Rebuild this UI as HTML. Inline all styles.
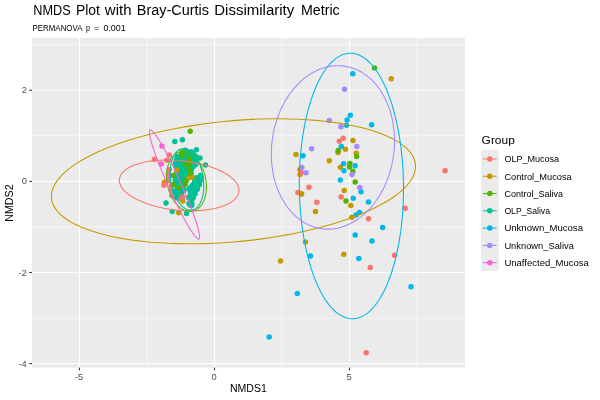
<!DOCTYPE html>
<html lang="en"><head><meta charset="utf-8"><title>NMDS Plot with Bray-Curtis Dissimilarity Metric</title><style>html,body{margin:0;padding:0;background:#fff;}body{width:600px;height:400px;overflow:hidden;font-family:"Liberation Sans",sans-serif;}svg{display:block;will-change:transform;}</style></head><body>
<svg width="600" height="400" viewBox="0 0 600 400" font-family="'Liberation Sans', sans-serif">
<rect width="600" height="400" fill="#fff"/>
<rect x="32.05" y="38.0" width="432.95" height="329.65" fill="#EBEBEB"/>
<clipPath id="c"><rect x="32.05" y="38.0" width="432.95" height="329.65"/></clipPath>
<g stroke="#fff" stroke-width="0.53" clip-path="url(#c)">
<line x1="147.00" x2="147.00" y1="38.0" y2="367.65"/>
<line x1="282.00" x2="282.00" y1="38.0" y2="367.65"/>
<line x1="417.00" x2="417.00" y1="38.0" y2="367.65"/>
<line y1="44.69" y2="44.69" x1="32.05" x2="465.0"/>
<line y1="135.81" y2="135.81" x1="32.05" x2="465.0"/>
<line y1="226.93" y2="226.93" x1="32.05" x2="465.0"/>
<line y1="318.05" y2="318.05" x1="32.05" x2="465.0"/>
</g>
<g stroke="#fff" stroke-width="1.07" clip-path="url(#c)">
<line x1="79.50" x2="79.50" y1="38.0" y2="367.65"/>
<line x1="214.50" x2="214.50" y1="38.0" y2="367.65"/>
<line x1="349.50" x2="349.50" y1="38.0" y2="367.65"/>
<line y1="90.25" y2="90.25" x1="32.05" x2="465.0"/>
<line y1="181.37" y2="181.37" x1="32.05" x2="465.0"/>
<line y1="272.49" y2="272.49" x1="32.05" x2="465.0"/>
<line y1="363.61" y2="363.61" x1="32.05" x2="465.0"/>
</g>
<g clip-path="url(#c)">
<g fill="#00C094">
<circle cx="183.9" cy="152.0" r="2.75"/>
<circle cx="186.6" cy="151.9" r="2.75"/>
<circle cx="188.8" cy="152.2" r="2.75"/>
<circle cx="190.7" cy="152.4" r="2.75"/>
<circle cx="181.3" cy="154.6" r="2.75"/>
<circle cx="183.7" cy="154.3" r="2.75"/>
<circle cx="186.4" cy="155.0" r="2.75"/>
<circle cx="188.4" cy="154.4" r="2.75"/>
<circle cx="191.3" cy="155.1" r="2.75"/>
<circle cx="193.6" cy="154.6" r="2.75"/>
<circle cx="182.2" cy="156.6" r="2.75"/>
<circle cx="184.5" cy="156.8" r="2.75"/>
<circle cx="186.1" cy="156.7" r="2.75"/>
<circle cx="188.6" cy="157.4" r="2.75"/>
<circle cx="190.8" cy="157.1" r="2.75"/>
<circle cx="193.6" cy="156.9" r="2.75"/>
<circle cx="195.9" cy="156.6" r="2.75"/>
<circle cx="176.6" cy="159.1" r="2.75"/>
<circle cx="179.6" cy="159.3" r="2.75"/>
<circle cx="181.6" cy="159.5" r="2.75"/>
<circle cx="184.1" cy="159.2" r="2.75"/>
<circle cx="186.7" cy="159.6" r="2.75"/>
<circle cx="188.5" cy="159.5" r="2.75"/>
<circle cx="191.2" cy="159.8" r="2.75"/>
<circle cx="193.7" cy="159.2" r="2.75"/>
<circle cx="196.3" cy="159.0" r="2.75"/>
<circle cx="177.0" cy="162.0" r="2.75"/>
<circle cx="179.1" cy="161.7" r="2.75"/>
<circle cx="181.3" cy="161.9" r="2.75"/>
<circle cx="184.4" cy="161.8" r="2.75"/>
<circle cx="186.8" cy="161.6" r="2.75"/>
<circle cx="189.0" cy="161.8" r="2.75"/>
<circle cx="191.2" cy="161.7" r="2.75"/>
<circle cx="193.8" cy="162.2" r="2.75"/>
<circle cx="195.8" cy="161.9" r="2.75"/>
<circle cx="176.6" cy="164.3" r="2.75"/>
<circle cx="179.5" cy="164.6" r="2.75"/>
<circle cx="182.1" cy="163.9" r="2.75"/>
<circle cx="184.0" cy="164.3" r="2.75"/>
<circle cx="186.0" cy="164.1" r="2.75"/>
<circle cx="188.5" cy="163.7" r="2.75"/>
<circle cx="190.7" cy="164.4" r="2.75"/>
<circle cx="193.1" cy="163.8" r="2.75"/>
<circle cx="195.7" cy="164.5" r="2.75"/>
<circle cx="176.6" cy="166.4" r="2.75"/>
<circle cx="179.4" cy="166.8" r="2.75"/>
<circle cx="182.1" cy="166.8" r="2.75"/>
<circle cx="183.9" cy="166.4" r="2.75"/>
<circle cx="186.3" cy="166.8" r="2.75"/>
<circle cx="189.3" cy="166.1" r="2.75"/>
<circle cx="190.8" cy="166.2" r="2.75"/>
<circle cx="193.2" cy="166.4" r="2.75"/>
<circle cx="177.1" cy="168.6" r="2.75"/>
<circle cx="178.9" cy="168.7" r="2.75"/>
<circle cx="181.6" cy="168.9" r="2.75"/>
<circle cx="184.6" cy="169.0" r="2.75"/>
<circle cx="186.5" cy="168.9" r="2.75"/>
<circle cx="189.0" cy="168.4" r="2.75"/>
<circle cx="191.5" cy="169.1" r="2.75"/>
<circle cx="177.4" cy="171.4" r="2.75"/>
<circle cx="179.3" cy="171.0" r="2.75"/>
<circle cx="181.4" cy="171.3" r="2.75"/>
<circle cx="183.7" cy="170.7" r="2.75"/>
<circle cx="186.2" cy="170.8" r="2.75"/>
<circle cx="188.6" cy="170.7" r="2.75"/>
<circle cx="190.7" cy="170.8" r="2.75"/>
<circle cx="176.7" cy="173.4" r="2.75"/>
<circle cx="178.9" cy="173.9" r="2.75"/>
<circle cx="181.9" cy="173.1" r="2.75"/>
<circle cx="183.9" cy="173.3" r="2.75"/>
<circle cx="186.3" cy="173.1" r="2.75"/>
<circle cx="189.1" cy="174.0" r="2.75"/>
<circle cx="191.1" cy="173.5" r="2.75"/>
<circle cx="176.6" cy="175.5" r="2.75"/>
<circle cx="179.2" cy="175.6" r="2.75"/>
<circle cx="182.1" cy="175.5" r="2.75"/>
<circle cx="183.6" cy="176.3" r="2.75"/>
<circle cx="186.5" cy="175.5" r="2.75"/>
<circle cx="188.8" cy="175.4" r="2.75"/>
<circle cx="177.1" cy="178.7" r="2.75"/>
<circle cx="179.8" cy="178.4" r="2.75"/>
<circle cx="181.5" cy="178.1" r="2.75"/>
<circle cx="183.8" cy="178.5" r="2.75"/>
<circle cx="186.5" cy="178.5" r="2.75"/>
<circle cx="176.9" cy="180.3" r="2.75"/>
<circle cx="179.7" cy="181.0" r="2.75"/>
<circle cx="182.1" cy="180.9" r="2.75"/>
<circle cx="184.4" cy="180.8" r="2.75"/>
<circle cx="186.2" cy="180.6" r="2.75"/>
<circle cx="176.9" cy="182.4" r="2.75"/>
<circle cx="178.9" cy="182.7" r="2.75"/>
<circle cx="181.5" cy="183.1" r="2.75"/>
<circle cx="184.6" cy="182.8" r="2.75"/>
<circle cx="177.5" cy="185.7" r="2.75"/>
<circle cx="179.9" cy="185.1" r="2.75"/>
<circle cx="181.5" cy="185.0" r="2.75"/>
<circle cx="183.8" cy="185.0" r="2.75"/>
<circle cx="177.2" cy="188.0" r="2.75"/>
<circle cx="179.7" cy="187.6" r="2.75"/>
<circle cx="181.9" cy="187.9" r="2.75"/>
<circle cx="183.7" cy="187.8" r="2.75"/>
<circle cx="177.5" cy="190.2" r="2.75"/>
<circle cx="179.7" cy="189.9" r="2.75"/>
<circle cx="181.4" cy="190.2" r="2.75"/>
<circle cx="183.9" cy="190.3" r="2.75"/>
<circle cx="177.5" cy="192.2" r="2.75"/>
<circle cx="179.3" cy="192.7" r="2.75"/>
<circle cx="182.0" cy="192.0" r="2.75"/>
<circle cx="176.7" cy="194.3" r="2.75"/>
<circle cx="179.8" cy="195.0" r="2.75"/>
<circle cx="181.4" cy="195.0" r="2.75"/>
<circle cx="177.5" cy="197.2" r="2.75"/>
<circle cx="179.3" cy="197.0" r="2.75"/>
<circle cx="196.7" cy="178.0" r="2.75"/>
<circle cx="199.6" cy="178.5" r="2.75"/>
<circle cx="194.8" cy="180.9" r="2.75"/>
<circle cx="196.9" cy="180.9" r="2.75"/>
<circle cx="199.5" cy="180.4" r="2.75"/>
<circle cx="194.6" cy="182.6" r="2.75"/>
<circle cx="196.8" cy="182.9" r="2.75"/>
<circle cx="199.0" cy="182.7" r="2.75"/>
<circle cx="192.3" cy="185.3" r="2.75"/>
<circle cx="194.7" cy="185.0" r="2.75"/>
<circle cx="197.1" cy="185.3" r="2.75"/>
<circle cx="190.3" cy="187.5" r="2.75"/>
<circle cx="192.6" cy="187.2" r="2.75"/>
<circle cx="194.8" cy="186.8" r="2.75"/>
<circle cx="197.0" cy="186.9" r="2.75"/>
<circle cx="190.0" cy="189.6" r="2.75"/>
<circle cx="192.3" cy="189.4" r="2.75"/>
<circle cx="195.0" cy="189.4" r="2.75"/>
<circle cx="196.9" cy="189.4" r="2.75"/>
<circle cx="190.4" cy="191.8" r="2.75"/>
<circle cx="192.3" cy="191.6" r="2.75"/>
<circle cx="194.6" cy="191.4" r="2.75"/>
<circle cx="190.6" cy="193.8" r="2.75"/>
<circle cx="192.6" cy="194.0" r="2.75"/>
<circle cx="195.1" cy="193.8" r="2.75"/>
<circle cx="190.5" cy="196.0" r="2.75"/>
<circle cx="192.6" cy="196.2" r="2.75"/>
<circle cx="190.4" cy="198.2" r="2.75"/>
<circle cx="192.6" cy="198.6" r="2.75"/>
<circle cx="190.6" cy="200.7" r="2.75"/>
<circle cx="190.8" cy="202.4" r="2.75"/>
<circle cx="196.0" cy="178.0" r="2.75"/>
<circle cx="200.5" cy="175.5" r="2.75"/>
<circle cx="200.2" cy="181.0" r="2.75"/>
<circle cx="197.3" cy="189.0" r="2.75"/>
<circle cx="193.3" cy="197.5" r="2.75"/>
<circle cx="191.8" cy="203.5" r="2.75"/>
<circle cx="189.0" cy="203.5" r="2.75"/>
<circle cx="188.3" cy="197.5" r="2.75"/>
<circle cx="189.2" cy="189.0" r="2.75"/>
<circle cx="190.4" cy="205.2" r="2.75"/>
<circle cx="191.6" cy="205.4" r="2.75"/>
<circle cx="200.9" cy="177.5" r="2.75"/>
<circle cx="199.5" cy="184.5" r="2.75"/>
</g>
<g fill="#FB61D7">
<circle cx="180.2" cy="198.6" r="2.75"/>
</g>
<g fill="#C49A00">
<circle cx="164.3" cy="182.2" r="2.75"/>
<circle cx="176.7" cy="170.1" r="2.75"/>
<circle cx="188.9" cy="177.8" r="2.75"/>
<circle cx="191.9" cy="177.3" r="2.75"/>
<circle cx="182.8" cy="201.1" r="2.75"/>
</g>
<g fill="#F8766D">
<circle cx="169.3" cy="155.0" r="2.75"/>
<circle cx="154.5" cy="159.3" r="2.75"/>
<circle cx="166.9" cy="160.3" r="2.75"/>
<circle cx="169.3" cy="169.6" r="2.75"/>
<circle cx="168.4" cy="173.8" r="2.75"/>
<circle cx="168.6" cy="180.5" r="2.75"/>
<circle cx="164.0" cy="185.3" r="2.75"/>
<circle cx="171.6" cy="185.6" r="2.75"/>
<circle cx="171.8" cy="190.0" r="2.75"/>
<circle cx="171.8" cy="195.4" r="2.75"/>
<circle cx="182.5" cy="197.0" r="2.75"/>
</g>
<g fill="#FB61D7">
<circle cx="161.9" cy="145.9" r="2.75"/>
<circle cx="161.3" cy="164.0" r="2.75"/>
<circle cx="168.7" cy="176.0" r="2.75"/>
</g>
<g fill="#53B400">
<circle cx="190.2" cy="131.2" r="2.75"/>
<circle cx="182.1" cy="151.9" r="2.75"/>
<circle cx="182.3" cy="155.8" r="2.75"/>
<circle cx="189.3" cy="158.7" r="2.75"/>
<circle cx="186.0" cy="164.8" r="2.75"/>
<circle cx="190.1" cy="164.0" r="2.75"/>
<circle cx="189.7" cy="170.1" r="2.75"/>
<circle cx="189.8" cy="172.9" r="2.75"/>
<circle cx="185.8" cy="181.3" r="2.75"/>
<circle cx="185.3" cy="184.0" r="2.75"/>
<circle cx="173.1" cy="175.5" r="2.75"/>
<circle cx="173.5" cy="184.6" r="2.75"/>
<circle cx="178.8" cy="188.0" r="2.75"/>
</g>
<g fill="#00C094">
<circle cx="174.8" cy="141.5" r="2.75"/>
<circle cx="182.4" cy="139.8" r="2.75"/>
<circle cx="196.4" cy="149.8" r="2.75"/>
<circle cx="191.6" cy="152.0" r="2.75"/>
<circle cx="185.5" cy="150.2" r="2.75"/>
<circle cx="200.0" cy="157.9" r="2.75"/>
<circle cx="205.5" cy="165.0" r="2.75"/>
<circle cx="177.4" cy="156.6" r="2.75"/>
<circle cx="194.0" cy="160.0" r="2.75"/>
<circle cx="193.2" cy="166.0" r="2.75"/>
<circle cx="175.3" cy="163.4" r="2.75"/>
<circle cx="166.0" cy="202.9" r="2.75"/>
<circle cx="172.2" cy="211.4" r="2.75"/>
<circle cx="186.6" cy="213.6" r="2.75"/>
<circle cx="174.8" cy="191.7" r="2.75"/>
<circle cx="180.1" cy="191.9" r="2.75"/>
<circle cx="177.6" cy="193.5" r="2.75"/>
<circle cx="176.2" cy="197.5" r="2.75"/>
<circle cx="175.3" cy="179.7" r="2.75"/>
</g>
<g fill="#C49A00">
<circle cx="178.6" cy="212.8" r="2.75"/>
<circle cx="391.2" cy="78.8" r="2.75"/>
<circle cx="353.0" cy="140.5" r="2.75"/>
<circle cx="345.5" cy="149.3" r="2.75"/>
<circle cx="338.0" cy="152.5" r="2.75"/>
<circle cx="356.4" cy="153.2" r="2.75"/>
<circle cx="296.0" cy="154.5" r="2.75"/>
<circle cx="329.3" cy="160.8" r="2.75"/>
<circle cx="340.4" cy="167.2" r="2.75"/>
<circle cx="300.0" cy="169.5" r="2.75"/>
<circle cx="300.0" cy="174.5" r="2.75"/>
<circle cx="344.2" cy="190.5" r="2.75"/>
<circle cx="301.2" cy="193.8" r="2.75"/>
<circle cx="350.8" cy="205.5" r="2.75"/>
<circle cx="315.5" cy="211.5" r="2.75"/>
<circle cx="351.8" cy="217.2" r="2.75"/>
<circle cx="305.4" cy="242.0" r="2.75"/>
<circle cx="343.8" cy="254.3" r="2.75"/>
<circle cx="280.5" cy="260.9" r="2.75"/>
</g>
<g fill="#00B6EB">
<circle cx="352.8" cy="73.8" r="2.75"/>
<circle cx="350.3" cy="115.2" r="2.75"/>
<circle cx="347.1" cy="120.1" r="2.75"/>
<circle cx="346.5" cy="125.3" r="2.75"/>
<circle cx="371.6" cy="124.7" r="2.75"/>
<circle cx="341.3" cy="146.5" r="2.75"/>
<circle cx="303.0" cy="155.8" r="2.75"/>
<circle cx="343.6" cy="163.8" r="2.75"/>
<circle cx="355.1" cy="165.7" r="2.75"/>
<circle cx="344.0" cy="170.8" r="2.75"/>
<circle cx="340.3" cy="179.9" r="2.75"/>
<circle cx="361.0" cy="191.8" r="2.75"/>
<circle cx="353.2" cy="198.2" r="2.75"/>
<circle cx="368.5" cy="202.0" r="2.75"/>
<circle cx="359.5" cy="212.5" r="2.75"/>
<circle cx="356.2" cy="215.0" r="2.75"/>
<circle cx="382.6" cy="227.6" r="2.75"/>
<circle cx="355.2" cy="235.1" r="2.75"/>
<circle cx="372.0" cy="241.1" r="2.75"/>
<circle cx="310.5" cy="256.1" r="2.75"/>
<circle cx="358.8" cy="258.5" r="2.75"/>
<circle cx="411.0" cy="286.7" r="2.75"/>
<circle cx="297.3" cy="293.6" r="2.75"/>
<circle cx="269.2" cy="337.0" r="2.75"/>
</g>
<g fill="#53B400">
<circle cx="374.5" cy="68.0" r="2.75"/>
<circle cx="338.2" cy="150.5" r="2.75"/>
<circle cx="356.6" cy="156.6" r="2.75"/>
<circle cx="349.9" cy="163.4" r="2.75"/>
<circle cx="349.4" cy="166.9" r="2.75"/>
<circle cx="352.8" cy="171.2" r="2.75"/>
<circle cx="355.2" cy="182.0" r="2.75"/>
<circle cx="346.0" cy="201.0" r="2.75"/>
</g>
<g fill="#A58AFF">
<circle cx="344.5" cy="89.2" r="2.75"/>
<circle cx="329.3" cy="120.4" r="2.75"/>
<circle cx="340.9" cy="126.8" r="2.75"/>
<circle cx="356.8" cy="146.4" r="2.75"/>
<circle cx="311.5" cy="148.8" r="2.75"/>
<circle cx="301.8" cy="167.5" r="2.75"/>
<circle cx="306.0" cy="172.8" r="2.75"/>
<circle cx="352.0" cy="174.5" r="2.75"/>
<circle cx="359.8" cy="187.5" r="2.75"/>
</g>
<g fill="#F8766D">
<circle cx="343.2" cy="138.3" r="2.75"/>
<circle cx="339.3" cy="141.2" r="2.75"/>
<circle cx="301.2" cy="172.5" r="2.75"/>
<circle cx="309.0" cy="187.2" r="2.75"/>
<circle cx="298.0" cy="192.5" r="2.75"/>
<circle cx="341.2" cy="197.0" r="2.75"/>
<circle cx="316.8" cy="202.2" r="2.75"/>
<circle cx="368.5" cy="218.7" r="2.75"/>
<circle cx="405.2" cy="208.2" r="2.75"/>
<circle cx="394.5" cy="255.2" r="2.75"/>
<circle cx="370.2" cy="267.5" r="2.75"/>
<circle cx="366.2" cy="352.8" r="2.75"/>
<circle cx="445.1" cy="170.7" r="2.75"/>
</g>
<g fill="#C49A00">
<circle cx="301.6" cy="193.9" r="2.75"/>
</g>
</g>
<g fill="none" stroke-width="1.07" stroke-linejoin="round" clip-path="url(#c)">
<path d="M239.0,190.4 L239.0,191.7 L238.7,193.0 L238.3,194.2 L237.7,195.5 L237.0,196.7 L236.1,197.9 L235.1,199.0 L233.9,200.1 L232.5,201.2 L231.0,202.2 L229.4,203.2 L227.6,204.1 L225.7,205.0 L223.7,205.8 L221.5,206.6 L219.2,207.3 L216.9,207.9 L214.4,208.5 L211.8,209.0 L209.1,209.5 L206.4,209.9 L203.5,210.2 L200.6,210.4 L197.7,210.6 L194.7,210.7 L191.6,210.8 L188.6,210.8 L185.5,210.7 L182.3,210.5 L179.2,210.3 L176.1,210.0 L172.9,209.6 L169.8,209.2 L166.8,208.7 L163.7,208.2 L160.7,207.5 L157.8,206.9 L154.9,206.1 L152.0,205.3 L149.3,204.5 L146.6,203.6 L144.0,202.6 L141.5,201.6 L139.2,200.6 L136.9,199.5 L134.7,198.3 L132.7,197.2 L130.8,196.0 L129.0,194.8 L127.4,193.5 L125.9,192.2 L124.5,190.9 L123.3,189.6 L122.3,188.3 L121.4,187.0 L120.7,185.7 L120.1,184.3 L119.7,183.0 L119.4,181.7 L119.3,180.4 L119.4,179.1 L119.7,177.8 L120.1,176.6 L120.7,175.3 L121.4,174.1 L122.3,172.9 L123.3,171.8 L124.5,170.7 L125.9,169.6 L127.4,168.6 L129.0,167.6 L130.8,166.7 L132.7,165.8 L134.7,165.0 L136.9,164.2 L139.2,163.5 L141.5,162.9 L144.0,162.3 L146.6,161.8 L149.3,161.3 L152.0,160.9 L154.9,160.6 L157.8,160.4 L160.7,160.2 L163.7,160.1 L166.8,160.0 L169.8,160.0 L172.9,160.1 L176.1,160.3 L179.2,160.5 L182.3,160.8 L185.5,161.2 L188.6,161.6 L191.6,162.1 L194.7,162.6 L197.7,163.3 L200.6,163.9 L203.5,164.7 L206.4,165.5 L209.1,166.3 L211.8,167.2 L214.4,168.2 L216.9,169.2 L219.2,170.2 L221.5,171.3 L223.7,172.5 L225.7,173.6 L227.6,174.8 L229.4,176.0 L231.0,177.3 L232.5,178.6 L233.9,179.9 L235.1,181.2 L236.1,182.5 L237.0,183.8 L237.7,185.1 L238.3,186.5 L238.7,187.8 L239.0,189.1Z" stroke="#F8766D"/>
<path d="M415.5,166.3 L415.3,169.5 L414.5,172.7 L413.3,176.0 L411.5,179.2 L409.3,182.5 L406.6,185.8 L403.4,189.0 L399.8,192.3 L395.7,195.5 L391.1,198.7 L386.1,201.8 L380.7,204.8 L374.9,207.8 L368.7,210.8 L362.2,213.6 L355.3,216.4 L348.0,219.0 L340.5,221.6 L332.6,224.0 L324.5,226.3 L316.1,228.6 L307.5,230.6 L298.7,232.6 L289.7,234.4 L280.6,236.0 L271.3,237.5 L261.9,238.9 L252.5,240.1 L243.0,241.1 L233.5,242.0 L223.9,242.7 L214.4,243.2 L205.0,243.6 L195.6,243.8 L186.3,243.8 L177.2,243.6 L168.2,243.3 L159.4,242.8 L150.8,242.2 L142.4,241.3 L134.3,240.4 L126.4,239.2 L118.9,237.9 L111.6,236.4 L104.7,234.8 L98.2,233.0 L92.0,231.1 L86.2,229.1 L80.8,226.9 L75.8,224.6 L71.2,222.2 L67.1,219.7 L63.5,217.0 L60.3,214.3 L57.6,211.5 L55.4,208.6 L53.6,205.6 L52.4,202.6 L51.6,199.5 L51.4,196.3 L51.6,193.1 L52.4,189.9 L53.6,186.6 L55.4,183.4 L57.6,180.1 L60.3,176.8 L63.5,173.6 L67.1,170.3 L71.2,167.1 L75.8,163.9 L80.8,160.8 L86.2,157.8 L92.0,154.8 L98.2,151.8 L104.7,149.0 L111.6,146.2 L118.9,143.6 L126.4,141.0 L134.3,138.6 L142.4,136.3 L150.8,134.0 L159.4,132.0 L168.2,130.0 L177.2,128.2 L186.3,126.6 L195.6,125.1 L205.0,123.7 L214.4,122.5 L223.9,121.5 L233.4,120.6 L243.0,119.9 L252.5,119.4 L261.9,119.0 L271.3,118.8 L280.6,118.8 L289.7,119.0 L298.7,119.3 L307.5,119.8 L316.1,120.4 L324.5,121.3 L332.6,122.2 L340.5,123.4 L348.0,124.7 L355.3,126.2 L362.2,127.8 L368.7,129.6 L374.9,131.5 L380.7,133.5 L386.1,135.7 L391.1,138.0 L395.7,140.4 L399.8,142.9 L403.4,145.6 L406.6,148.3 L409.3,151.1 L411.5,154.0 L413.3,157.0 L414.5,160.0 L415.3,163.1Z" stroke="#C49A00"/>
<path d="M206.4,186.8 L206.4,188.4 L206.3,189.9 L206.2,191.4 L206.0,192.8 L205.7,194.3 L205.4,195.7 L205.1,197.0 L204.7,198.4 L204.2,199.6 L203.7,200.9 L203.2,202.0 L202.6,203.1 L202.0,204.2 L201.3,205.2 L200.6,206.1 L199.8,207.0 L199.0,207.7 L198.2,208.5 L197.3,209.1 L196.4,209.7 L195.5,210.2 L194.6,210.6 L193.6,210.9 L192.6,211.1 L191.7,211.3 L190.6,211.4 L189.6,211.4 L188.6,211.3 L187.5,211.1 L186.5,210.9 L185.5,210.6 L184.4,210.2 L183.4,209.7 L182.4,209.1 L181.3,208.5 L180.4,207.8 L179.4,207.0 L178.4,206.1 L177.5,205.2 L176.6,204.2 L175.7,203.2 L174.8,202.1 L174.0,200.9 L173.2,199.7 L172.4,198.4 L171.7,197.1 L171.0,195.8 L170.4,194.4 L169.8,192.9 L169.3,191.5 L168.8,190.0 L168.3,188.4 L167.9,186.9 L167.6,185.4 L167.3,183.8 L167.0,182.2 L166.8,180.7 L166.7,179.1 L166.6,177.5 L166.6,176.0 L166.6,174.4 L166.7,172.9 L166.8,171.4 L167.0,170.0 L167.3,168.5 L167.6,167.1 L167.9,165.8 L168.3,164.4 L168.8,163.2 L169.3,161.9 L169.8,160.8 L170.4,159.7 L171.0,158.6 L171.7,157.6 L172.4,156.7 L173.2,155.8 L174.0,155.1 L174.8,154.3 L175.7,153.7 L176.5,153.1 L177.5,152.6 L178.4,152.2 L179.4,151.9 L180.4,151.7 L181.3,151.5 L182.4,151.4 L183.4,151.4 L184.4,151.5 L185.5,151.7 L186.5,151.9 L187.5,152.2 L188.6,152.6 L189.6,153.1 L190.6,153.7 L191.7,154.3 L192.6,155.0 L193.6,155.8 L194.6,156.7 L195.5,157.6 L196.4,158.6 L197.3,159.6 L198.2,160.7 L199.0,161.9 L199.8,163.1 L200.6,164.4 L201.3,165.7 L202.0,167.0 L202.6,168.4 L203.2,169.9 L203.7,171.3 L204.2,172.8 L204.7,174.4 L205.1,175.9 L205.4,177.4 L205.7,179.0 L206.0,180.6 L206.2,182.1 L206.3,183.7 L206.4,185.3Z" stroke="#53B400"/>
<path d="M203.8,185.7 L203.8,187.3 L203.7,188.8 L203.6,190.4 L203.4,191.9 L203.2,193.3 L203.0,194.7 L202.7,196.1 L202.3,197.4 L202.0,198.7 L201.5,199.9 L201.1,201.1 L200.6,202.2 L200.1,203.3 L199.5,204.2 L198.9,205.1 L198.2,206.0 L197.6,206.8 L196.9,207.4 L196.1,208.1 L195.4,208.6 L194.6,209.1 L193.8,209.4 L193.0,209.7 L192.2,209.9 L191.3,210.1 L190.5,210.1 L189.6,210.1 L188.8,209.9 L187.9,209.7 L187.0,209.4 L186.1,209.0 L185.2,208.6 L184.4,208.0 L183.5,207.4 L182.7,206.7 L181.8,206.0 L181.0,205.1 L180.2,204.2 L179.4,203.2 L178.6,202.2 L177.9,201.1 L177.1,199.9 L176.4,198.7 L175.8,197.4 L175.1,196.1 L174.5,194.7 L173.9,193.3 L173.4,191.8 L172.9,190.3 L172.5,188.8 L172.0,187.2 L171.7,185.7 L171.3,184.1 L171.0,182.5 L170.8,180.9 L170.6,179.3 L170.4,177.7 L170.3,176.1 L170.2,174.5 L170.2,172.9 L170.2,171.3 L170.3,169.8 L170.4,168.2 L170.6,166.7 L170.8,165.3 L171.0,163.9 L171.3,162.5 L171.7,161.2 L172.0,159.9 L172.5,158.7 L172.9,157.5 L173.4,156.4 L173.9,155.3 L174.5,154.4 L175.1,153.5 L175.8,152.6 L176.4,151.8 L177.1,151.2 L177.9,150.5 L178.6,150.0 L179.4,149.5 L180.2,149.2 L181.0,148.9 L181.8,148.7 L182.7,148.5 L183.5,148.5 L184.4,148.5 L185.2,148.7 L186.1,148.9 L187.0,149.2 L187.9,149.6 L188.8,150.0 L189.6,150.6 L190.5,151.2 L191.3,151.9 L192.2,152.6 L193.0,153.5 L193.8,154.4 L194.6,155.4 L195.4,156.4 L196.1,157.5 L196.9,158.7 L197.6,159.9 L198.2,161.2 L198.9,162.5 L199.5,163.9 L200.1,165.3 L200.6,166.8 L201.1,168.3 L201.5,169.8 L202.0,171.4 L202.3,172.9 L202.7,174.5 L203.0,176.1 L203.2,177.7 L203.4,179.3 L203.6,180.9 L203.7,182.5 L203.8,184.1Z" stroke="#00C094"/>
<path d="M403.5,188.6 L403.4,195.5 L403.2,202.4 L402.9,209.3 L402.4,216.1 L401.7,222.8 L401.0,229.5 L400.0,236.0 L399.0,242.3 L397.8,248.6 L396.5,254.6 L395.1,260.5 L393.5,266.1 L391.9,271.5 L390.1,276.7 L388.2,281.7 L386.3,286.4 L384.2,290.8 L382.0,294.9 L379.8,298.7 L377.4,302.3 L375.1,305.5 L372.6,308.3 L370.1,310.9 L367.5,313.1 L364.9,314.9 L362.2,316.4 L359.6,317.5 L356.8,318.3 L354.1,318.7 L351.4,318.8 L348.7,318.5 L346.0,317.8 L343.2,316.7 L340.6,315.3 L337.9,313.6 L335.3,311.5 L332.7,309.0 L330.2,306.3 L327.7,303.1 L325.3,299.7 L323.0,296.0 L320.8,291.9 L318.6,287.6 L316.5,283.0 L314.6,278.1 L312.7,272.9 L310.9,267.6 L309.3,262.0 L307.7,256.2 L306.3,250.2 L305.0,244.0 L303.8,237.7 L302.8,231.2 L301.8,224.6 L301.1,217.9 L300.4,211.1 L299.9,204.2 L299.6,197.3 L299.4,190.4 L299.3,183.4 L299.4,176.5 L299.6,169.6 L299.9,162.7 L300.4,155.9 L301.1,149.2 L301.8,142.5 L302.8,136.0 L303.8,129.7 L305.0,123.4 L306.3,117.4 L307.7,111.5 L309.3,105.9 L310.9,100.5 L312.7,95.3 L314.6,90.3 L316.5,85.6 L318.6,81.2 L320.8,77.1 L323.0,73.3 L325.3,69.7 L327.7,66.5 L330.2,63.7 L332.7,61.1 L335.3,58.9 L337.9,57.1 L340.6,55.6 L343.2,54.5 L346.0,53.7 L348.7,53.3 L351.4,53.2 L354.1,53.5 L356.8,54.2 L359.6,55.3 L362.2,56.7 L364.9,58.4 L367.5,60.5 L370.1,63.0 L372.6,65.7 L375.1,68.9 L377.4,72.3 L379.8,76.0 L382.0,80.1 L384.2,84.4 L386.3,89.0 L388.2,93.9 L390.1,99.1 L391.9,104.4 L393.5,110.0 L395.1,115.8 L396.5,121.8 L397.8,128.0 L399.0,134.3 L400.0,140.8 L401.0,147.4 L401.7,154.1 L402.4,160.9 L402.9,167.8 L403.2,174.7 L403.4,181.6Z" stroke="#00B6EB"/>
<path d="M394.5,140.7 L394.4,145.0 L394.2,149.3 L393.7,153.6 L393.2,157.8 L392.4,162.0 L391.5,166.2 L390.4,170.4 L389.2,174.4 L387.8,178.4 L386.2,182.4 L384.6,186.2 L382.7,189.9 L380.8,193.5 L378.7,196.9 L376.5,200.3 L374.1,203.5 L371.7,206.5 L369.1,209.4 L366.4,212.1 L363.7,214.6 L360.9,216.9 L358.0,219.1 L355.0,221.0 L351.9,222.8 L348.8,224.3 L345.7,225.7 L342.5,226.8 L339.3,227.7 L336.1,228.4 L332.9,228.8 L329.7,229.1 L326.5,229.1 L323.3,228.9 L320.1,228.4 L317.0,227.8 L313.9,226.9 L310.8,225.8 L307.8,224.5 L304.9,223.0 L302.1,221.2 L299.4,219.3 L296.7,217.2 L294.1,214.9 L291.7,212.4 L289.3,209.7 L287.1,206.8 L285.0,203.8 L283.1,200.6 L281.2,197.3 L279.6,193.9 L278.0,190.3 L276.6,186.6 L275.4,182.8 L274.3,178.9 L273.4,174.9 L272.6,170.8 L272.1,166.7 L271.6,162.5 L271.4,158.3 L271.3,154.1 L271.4,149.8 L271.6,145.5 L272.1,141.2 L272.6,137.0 L273.4,132.8 L274.3,128.6 L275.4,124.4 L276.6,120.4 L278.0,116.4 L279.6,112.4 L281.2,108.6 L283.1,104.9 L285.0,101.3 L287.1,97.9 L289.3,94.5 L291.7,91.3 L294.1,88.3 L296.7,85.4 L299.4,82.7 L302.1,80.2 L304.9,77.9 L307.8,75.7 L310.8,73.8 L313.9,72.0 L317.0,70.5 L320.1,69.1 L323.3,68.0 L326.5,67.1 L329.7,66.4 L332.9,66.0 L336.1,65.7 L339.3,65.7 L342.5,65.9 L345.7,66.4 L348.8,67.0 L351.9,67.9 L355.0,69.0 L358.0,70.3 L360.9,71.8 L363.7,73.6 L366.4,75.5 L369.1,77.6 L371.7,79.9 L374.1,82.4 L376.5,85.1 L378.7,88.0 L380.8,91.0 L382.7,94.2 L384.6,97.5 L386.2,100.9 L387.8,104.5 L389.2,108.2 L390.4,112.0 L391.5,115.9 L392.4,119.9 L393.2,124.0 L393.7,128.1 L394.2,132.3 L394.4,136.5Z" stroke="#A58AFF"/>
<path d="M198.9,239.1 L198.6,239.1 L198.2,239.1 L197.7,238.8 L197.2,238.4 L196.6,237.9 L195.9,237.2 L195.2,236.4 L194.4,235.4 L193.6,234.3 L192.7,233.1 L191.8,231.7 L190.8,230.2 L189.8,228.6 L188.7,226.8 L187.6,224.9 L186.5,223.0 L185.3,220.9 L184.1,218.7 L182.9,216.4 L181.6,214.1 L180.4,211.6 L179.1,209.1 L177.8,206.5 L176.5,203.9 L175.2,201.2 L173.9,198.4 L172.5,195.6 L171.2,192.8 L169.9,190.0 L168.7,187.1 L167.4,184.3 L166.1,181.4 L164.9,178.5 L163.7,175.7 L162.5,172.9 L161.4,170.1 L160.3,167.4 L159.2,164.7 L158.2,162.0 L157.2,159.5 L156.3,157.0 L155.4,154.5 L154.6,152.2 L153.8,149.9 L153.1,147.7 L152.4,145.7 L151.8,143.7 L151.3,141.9 L150.8,140.1 L150.4,138.5 L150.1,137.0 L149.8,135.7 L149.6,134.5 L149.5,133.4 L149.4,132.4 L149.4,131.6 L149.5,131.0 L149.6,130.5 L149.8,130.1 L150.1,129.9 L150.4,129.9 L150.8,129.9 L151.3,130.2 L151.8,130.6 L152.4,131.1 L153.1,131.8 L153.8,132.6 L154.6,133.6 L155.4,134.7 L156.3,135.9 L157.2,137.3 L158.2,138.8 L159.2,140.4 L160.3,142.2 L161.4,144.1 L162.5,146.0 L163.7,148.1 L164.9,150.3 L166.1,152.6 L167.4,154.9 L168.6,157.4 L169.9,159.9 L171.2,162.5 L172.5,165.1 L173.8,167.8 L175.1,170.6 L176.5,173.4 L177.8,176.2 L179.1,179.0 L180.3,181.9 L181.6,184.7 L182.9,187.6 L184.1,190.5 L185.3,193.3 L186.5,196.1 L187.6,198.9 L188.7,201.6 L189.8,204.3 L190.8,207.0 L191.8,209.5 L192.7,212.0 L193.6,214.5 L194.4,216.8 L195.2,219.1 L195.9,221.3 L196.6,223.3 L197.2,225.3 L197.7,227.1 L198.2,228.9 L198.6,230.5 L198.9,232.0 L199.2,233.3 L199.4,234.5 L199.5,235.6 L199.6,236.6 L199.6,237.4 L199.5,238.0 L199.4,238.5 L199.2,238.9Z" stroke="#FB61D7"/>
</g>
<g stroke="#333" stroke-width="1.07">
<line x1="79.50" x2="79.50" y1="367.65" y2="370.39"/>
<line x1="214.50" x2="214.50" y1="367.65" y2="370.39"/>
<line x1="349.50" x2="349.50" y1="367.65" y2="370.39"/>
<line y1="90.25" y2="90.25" x1="29.31" x2="32.05"/>
<line y1="181.37" y2="181.37" x1="29.31" x2="32.05"/>
<line y1="272.49" y2="272.49" x1="29.31" x2="32.05"/>
<line y1="363.61" y2="363.61" x1="29.31" x2="32.05"/>
</g>
<g fill="#4D4D4D" font-size="9.3">
<text x="79.10" y="379.7" text-anchor="middle">-5</text>
<text x="214.10" y="379.7" text-anchor="middle">0</text>
<text x="349.10" y="379.7" text-anchor="middle">5</text>
<text x="26.8" y="93.35" text-anchor="end">2</text>
<text x="26.8" y="184.47" text-anchor="end">0</text>
<text x="26.8" y="275.59" text-anchor="end">-2</text>
<text x="26.8" y="366.71" text-anchor="end">-4</text>
</g>
<g fill="#000">
<text y="14.75" font-size="14.0"><tspan x="33.30" textLength="37.39" lengthAdjust="spacingAndGlyphs">NMDS</tspan> <tspan x="76.00" textLength="23.98" lengthAdjust="spacingAndGlyphs">Plot</tspan> <tspan x="104.87" textLength="26.60" lengthAdjust="spacingAndGlyphs">with</tspan> <tspan x="136.80" textLength="72.21" lengthAdjust="spacingAndGlyphs">Bray-Curtis</tspan> <tspan x="214.30" textLength="79.97" lengthAdjust="spacingAndGlyphs">Dissimilarity</tspan> <tspan x="301.00" textLength="38.73" lengthAdjust="spacingAndGlyphs">Metric</tspan></text>
<text y="30.7" font-size="8.6"><tspan x="32.60" textLength="49.37" lengthAdjust="spacingAndGlyphs">PERMANOVA</tspan> <tspan x="86.00" textLength="3.91" lengthAdjust="spacingAndGlyphs">p</tspan> <tspan x="93.90" textLength="5.19" lengthAdjust="spacingAndGlyphs">=</tspan> <tspan x="103.40" textLength="22.38" lengthAdjust="spacingAndGlyphs">0.001</tspan></text>
<text y="392.2" font-size="11.66"><tspan x="229.90" textLength="37.01" lengthAdjust="spacingAndGlyphs">NMDS1</tspan></text>
<text y="13.1" font-size="11.66" transform="rotate(-90)"><tspan x="-221.80" textLength="37.41" lengthAdjust="spacingAndGlyphs">NMDS2</tspan></text>
<text y="143.6" font-size="11.66"><tspan x="481.60" textLength="33.19" lengthAdjust="spacingAndGlyphs">Group</tspan></text>
</g>
<rect x="481.1" y="150.0" width="17.6" height="121" fill="#EBEBEB"/>
<line x1="482.83" x2="496.65" y1="159.00" y2="159.00" stroke="#F8766D" stroke-width="1.07"/>
<circle cx="489.80" cy="159.00" r="2.75" fill="#F8766D"/>
<text y="162.25" font-size="9.33" fill="#000"><tspan x="504.40" textLength="54.64" lengthAdjust="spacingAndGlyphs">OLP_Mucosa</tspan></text>
<line x1="482.83" x2="496.65" y1="176.28" y2="176.28" stroke="#C49A00" stroke-width="1.07"/>
<circle cx="489.80" cy="176.28" r="2.75" fill="#C49A00"/>
<text y="179.53" font-size="9.33" fill="#000"><tspan x="504.40" textLength="67.27" lengthAdjust="spacingAndGlyphs">Control_Mucosa</tspan></text>
<line x1="482.83" x2="496.65" y1="193.56" y2="193.56" stroke="#53B400" stroke-width="1.07"/>
<circle cx="489.80" cy="193.56" r="2.75" fill="#53B400"/>
<text y="196.81" font-size="9.33" fill="#000"><tspan x="504.40" textLength="58.54" lengthAdjust="spacingAndGlyphs">Control_Saliva</tspan></text>
<line x1="482.83" x2="496.65" y1="210.84" y2="210.84" stroke="#00C094" stroke-width="1.07"/>
<circle cx="489.80" cy="210.84" r="2.75" fill="#00C094"/>
<text y="214.09" font-size="9.33" fill="#000"><tspan x="504.40" textLength="45.56" lengthAdjust="spacingAndGlyphs">OLP_Saliva</tspan></text>
<line x1="482.83" x2="496.65" y1="228.12" y2="228.12" stroke="#00B6EB" stroke-width="1.07"/>
<circle cx="489.80" cy="228.12" r="2.75" fill="#00B6EB"/>
<text y="231.37" font-size="9.33" fill="#000"><tspan x="504.40" textLength="78.57" lengthAdjust="spacingAndGlyphs">Unknown_Mucosa</tspan></text>
<line x1="482.83" x2="496.65" y1="245.40" y2="245.40" stroke="#A58AFF" stroke-width="1.07"/>
<circle cx="489.80" cy="245.40" r="2.75" fill="#A58AFF"/>
<text y="248.65" font-size="9.33" fill="#000"><tspan x="504.40" textLength="69.44" lengthAdjust="spacingAndGlyphs">Unknown_Saliva</tspan></text>
<line x1="482.83" x2="496.65" y1="262.68" y2="262.68" stroke="#FB61D7" stroke-width="1.07"/>
<circle cx="489.80" cy="262.68" r="2.75" fill="#FB61D7"/>
<text y="265.93" font-size="9.33" fill="#000"><tspan x="504.40" textLength="84.46" lengthAdjust="spacingAndGlyphs">Unaffected_Mucosa</tspan></text>
</svg>
</body></html>
